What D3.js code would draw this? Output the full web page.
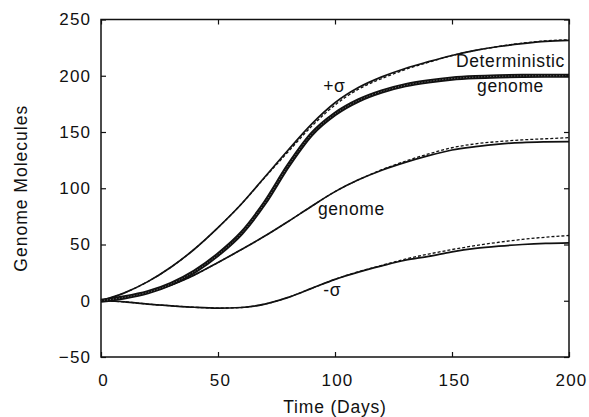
<!DOCTYPE html>
<html><head><meta charset="utf-8">
<script src="https://cdn.jsdelivr.net/npm/d3@7"></script>
<style>
body{margin:0;background:#fff;}
text{font-family:"Liberation Sans",Arial,Helvetica,sans-serif;fill:#111;}
</style>
</head><body><svg id="c" width="589" height="417"></svg>
<script>
const days = [0,10,20,30,40,50,60,70,80,90,100,110,120,130,140,150,160,170,180,190,200];
const deterministic   = [0,3,7.5,15,26,41,60,87,120,148,166,178,186,191.5,195,197.5,198.8,199.5,199.9,200,200];
const plusSigma       = [0,7,17,30,46,65,86,110,134,157,176,189.5,199,206.5,212.5,218,222.5,226,228.5,230.5,231.5];
const plusSigmaDashed = [0,7,17,30,46,65,86,109.5,132.5,155,174,188,197.5,205.5,212,218,222.5,226,229,231,232];
const meanGenome      = [0,3,7.5,14,23,34,45.5,57.5,70.5,84,97,107.5,116,123,129,134,137,139.3,140.6,141.2,141.5];
const meanGenomeDashed= [0,3,7.5,14,23,34,45.5,57.5,70.5,84,97,107.5,116.5,124,130.5,136,139.5,141.5,143,144,145];
const minusSigma      = [0,-1,-3,-4.5,-5.8,-6.5,-6,-3,3,11,19,25.5,31,36,39.5,43.5,46.5,48.5,50,51,51.5];
const minusSigmaDashed= [0,-1,-3,-4.5,-5.8,-6.5,-6,-3,3,11,19,25.8,31.5,37,41.5,45.5,49,52,54.5,56.5,58];
const xTicks = [0,50,100,150,200];
const yTicks = [-50,0,50,100,150,200,250];
const labels = [
  {text:"+σ", t:95, v:186, anchor:"start"},
  {text:"Deterministic", t:175, v:208, anchor:"middle"},
  {text:"genome", t:175, v:185.5, anchor:"middle"},
  {text:"genome", t:107, v:76, anchor:"middle"},
  {text:"-σ", t:95, v:4, anchor:"start"}
];

const svg = d3.select("#c");
const L=101, R=569, T=19.5, B=357;
const x = d3.scaleLinear([0,200],[L,R]);
const y = d3.scaleLinear([-50,250],[B,T]);

const line = d3.line().x(d=>x(d[0])).y(d=>y(d[1])).curve(d3.curveMonotoneX);
const pts = arr => days.map((t,i)=>[t,arr[i]]);

const g = svg.append("g");
[plusSigmaDashed, meanGenomeDashed, minusSigmaDashed].forEach(s=>{
  g.append("path").attr("d", line(pts(s))).attr("fill","none")
   .attr("stroke","#111").attr("stroke-width",1.3).attr("stroke-dasharray","3,2");
});
[plusSigma, meanGenome, minusSigma].forEach(s=>{
  g.append("path").attr("d", line(pts(s))).attr("fill","none")
   .attr("stroke","#111").attr("stroke-width",1.7);
});
g.append("path").attr("d", line(pts(deterministic))).attr("fill","none")
  .attr("stroke","#111").attr("stroke-width",4.2);
g.append("path").attr("d", line(pts(deterministic))).attr("fill","none")
  .attr("stroke","#777").attr("stroke-width",1).attr("stroke-dasharray","1,2");

const fs = "17px";
const xa = svg.append("g").attr("transform",`translate(0,${B})`)
  .call(d3.axisBottom(x).tickValues(xTicks).tickSizeInner(-5).tickSizeOuter(0).tickPadding(17));
const ya = svg.append("g").attr("transform",`translate(${L},0)`)
  .call(d3.axisLeft(y).tickValues(yTicks).tickSizeInner(-5).tickSizeOuter(0).tickPadding(11));
const xt = svg.append("g").attr("transform",`translate(0,${T})`)
  .call(d3.axisTop(x).tickValues(xTicks).tickSizeInner(-5).tickSizeOuter(0).tickFormat(""));
const yr = svg.append("g").attr("transform",`translate(${R},0)`)
  .call(d3.axisRight(y).tickValues(yTicks).tickSizeInner(-5).tickSizeOuter(0).tickFormat(""));
[xa,ya,xt,yr].forEach(a=>{
  a.select(".domain").remove();
  a.selectAll(".tick line").attr("stroke","#111").attr("stroke-width",1.2);
  a.selectAll("text").attr("font-size",fs).attr("font-family",null).style("letter-spacing","1.2px").attr("fill","#111");
});
ya.selectAll(".tick text").attr("dx","1.2px");
xa.selectAll(".tick text").attr("dx","2px");

svg.append("rect").attr("x",L).attr("y",T).attr("width",R-L).attr("height",B-T)
  .attr("fill","none").attr("stroke","#111").attr("stroke-width",1.5);

svg.append("text").attr("x",(L+R)/2).attr("y",413).attr("text-anchor","middle")
  .attr("font-size","17.5px").style("letter-spacing","0.8px").text("Time (Days)");
svg.append("text").attr("transform",`translate(27,${(T+B)/2}) rotate(-90)`).attr("text-anchor","middle")
  .attr("font-size","17.5px").style("letter-spacing","1px").text("Genome Molecules");

labels.forEach(d=>{
  svg.append("text").attr("x",x(d.t)).attr("y",y(d.v)).attr("text-anchor",d.anchor)
    .attr("font-size","17.5px").style("letter-spacing","0.6px").text(d.text);
});
</script></body></html>
